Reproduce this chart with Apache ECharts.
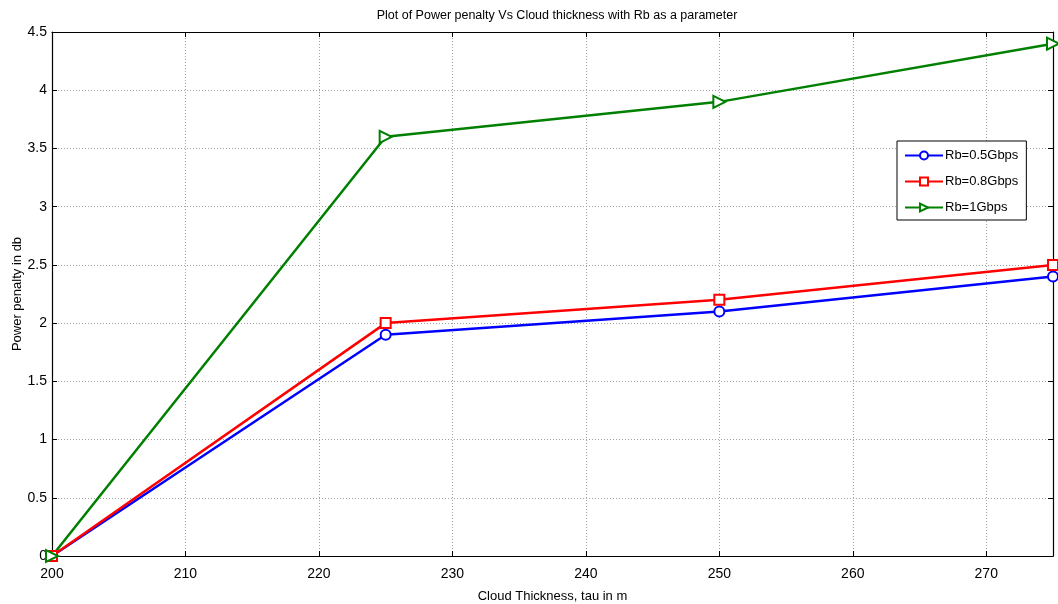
<!DOCTYPE html>
<html>
<head>
<meta charset="utf-8">
<script src="https://cdn.jsdelivr.net/npm/echarts@6/dist/echarts.min.js"></script>
<style>
  html, body { margin: 0; padding: 0; background: #fff; }
  #chart { width: 1058px; height: 604px; }
</style>
</head>
<body>
<div id="chart"></div>
<script>
// Cloud thickness (m) and power penalty (dB) for each bit rate
const thickness = [200, 225, 250, 275];
const penalty05 = [0, 1.9, 2.1, 2.4];
const penalty08 = [0, 2.0, 2.2, 2.5];
const penalty1 = [0, 3.6, 3.9, 4.4];
const seriesNames = ['Rb=0.5Gbps', 'Rb=0.8Gbps', 'Rb=1Gbps'];

const FONT = '"Liberation Sans Narrow", "Arial Narrow", "Liberation Sans", Arial, sans-serif';

const chart = echarts.init(document.getElementById('chart'));

function pairs(ys) { return thickness.map((x, i) => [x, ys[i]]); }

const gridLine = { show: true, lineStyle: { color: '#a0a0a0', type: [1, 2], width: 1 } };

function mkSeries(name, ys, color, symbol, size, rotate) {
  return {
    name: name,
    type: 'line',
    data: pairs(ys),
    symbol: symbol,
    symbolSize: size,
    symbolRotate: rotate || 0,
    showAllSymbol: true,
    lineStyle: { color: color, width: 2.5 },
    itemStyle: { color: '#fff', borderColor: color, borderWidth: 2 },
    emphasis: { disabled: true },
    animation: false,
    z: 3
  };
}

chart.setOption({
  animation: false,
  backgroundColor: '#fff',
  title: {
    text: 'Plot of Power penalty Vs Cloud thickness with Rb as a parameter',
    left: 552, top: 4, textAlign: 'center',
    textStyle: { fontFamily: FONT, fontSize: 12.5, fontWeight: 'normal', color: '#000' }
  },
  grid: { left: 52, right: 5, top: 32, bottom: 48, outerBoundsMode: 'none', containLabel: false },
  legend: {
    orient: 'vertical',
    left: 897, top: 141,
    padding: [8, 8, 6, 7],
    itemGap: 13,
    itemWidth: 38, itemHeight: 10,
    borderColor: '#000', borderWidth: 1,
    backgroundColor: '#fff',
    textStyle: { fontFamily: FONT, fontSize: 13, color: '#000', padding: [0, 0, 0, -3] },
    data: seriesNames
  },
  xAxis: [{
    type: 'value', min: 200, max: 275, interval: 10,
    name: 'Cloud Thickness, tau in m', nameLocation: 'middle', nameGap: 34,
    nameMoveOverlap: false,
    nameTextStyle: { fontFamily: FONT, fontSize: 13, color: '#000' },
    axisLine: { show: true, onZero: false, lineStyle: { color: '#000', width: 1.2 } },
    axisTick: { show: true, inside: true, length: 5, lineStyle: { color: '#000' } },
    axisLabel: { fontFamily: FONT, fontSize: 14, color: '#000', margin: 11, showMaxLabel: false },
    splitLine: gridLine
  }, {
    type: 'value', min: 200, max: 275, interval: 10, position: 'top',
    axisLine: { show: true, onZero: false, lineStyle: { color: '#000', width: 1.2 } },
    axisTick: { show: true, inside: true, length: 5, lineStyle: { color: '#000' } },
    axisLabel: { show: false },
    splitLine: { show: false }
  }],
  yAxis: [{
    type: 'value', min: 0, max: 4.5, interval: 0.5,
    name: 'Power penalty in db', nameLocation: 'middle', nameGap: 28,
    nameMoveOverlap: false,
    nameTextStyle: { fontFamily: FONT, fontSize: 13, color: '#000' },
    axisLine: { show: true, onZero: false, lineStyle: { color: '#000', width: 1.2 } },
    axisTick: { show: true, inside: true, length: 5, lineStyle: { color: '#000' } },
    axisLabel: { fontFamily: FONT, fontSize: 14, color: '#000', margin: 5 },
    splitLine: gridLine
  }, {
    type: 'value', min: 0, max: 4.5, interval: 0.5, position: 'right',
    axisLine: { show: true, onZero: false, lineStyle: { color: '#000', width: 1.2 } },
    axisTick: { show: true, inside: true, length: 5, lineStyle: { color: '#000' } },
    axisLabel: { show: false },
    splitLine: { show: false }
  }],
  series: [
    mkSeries(seriesNames[0], penalty05, '#0000ff', 'circle', 10),
    mkSeries(seriesNames[1], penalty08, '#ff0000', 'rect', 10),
    mkSeries(seriesNames[2], penalty1, '#008000', 'triangle', 12, -90)
  ]
});
</script>
</body>
</html>
